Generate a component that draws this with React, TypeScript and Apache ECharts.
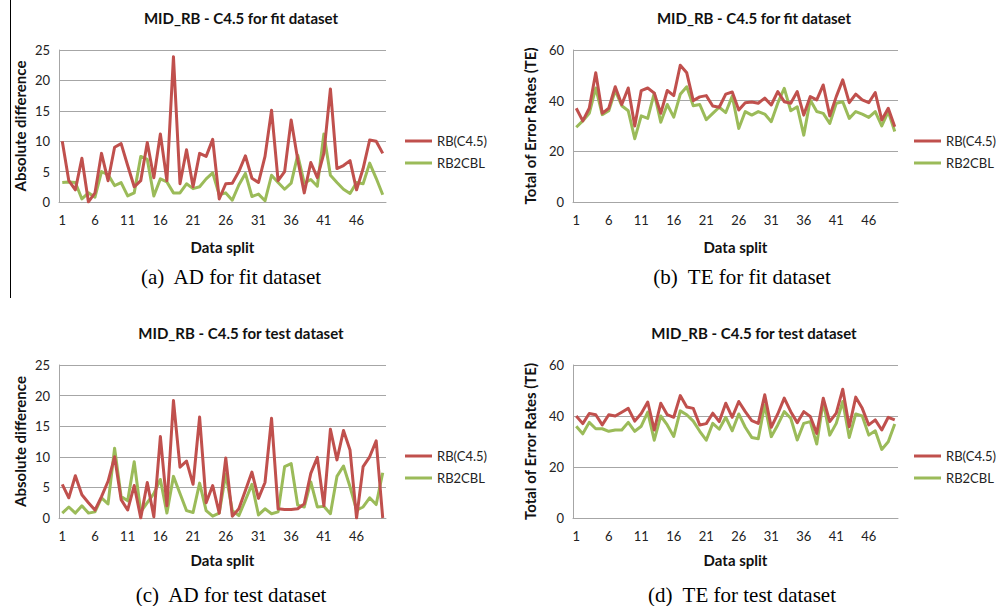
import React, { useEffect, useRef } from 'react';
import * as echarts from 'echarts';

const splits = ['1','2','3','4','5','6','7','8','9','10','11','12','13','14','15','16','17','18','19','20','21','22','23','24','25','26','27','28','29','30','31','32','33','34','35','36','37','38','39','40','41','42','43','44','45','46','47','48','49','50'];

const seriesNames = ['RB(C4.5)', 'RB2CBL'];

const fitAdRb = [10,3.5,2,7.2,0,1.5,8,3.5,9,9.6,6,2.5,3.5,9.8,4,11.2,3.5,23.9,3,8.6,2.5,8,7.5,10.3,0.5,3,3.1,5,7.6,3.9,3.2,7.5,15.1,3.5,5,13.5,7,1.5,6.5,4,8,18.6,5.5,6,6.8,2,5.5,10.2,10,8];
const fitAdCbl = [3.2,3.3,3.2,0.5,1.5,0.8,5,4.5,2.7,3.2,1,1.5,7.5,7,1,3.8,3.3,1.5,1.5,3,2.2,2.5,3.8,4.8,1.2,1.5,0.3,2.8,4.7,0.9,1.3,0.2,4.4,3.2,2.1,3.1,7.7,3.1,3.7,2.6,11.2,4.4,3.2,2.1,1.4,3.2,3,6.4,3.9,1.2];

const fitTeRb = [37,32,37,51,35,37,45.5,38.5,45,30,44,45,43,35,44,42,54,51,40,41.5,42,37.9,37.4,42.6,43.4,36.3,39.2,39.5,39,41,38.3,43.6,39.6,39,43.6,34.3,41.6,40.3,46.2,34,41.6,48.2,39.2,42.6,40.3,39.2,43.2,32.4,37,29.7];
const fitTeCbl = [29.5,32,35,45,34.5,36,44,38,36,25,34,33,43,31.5,38.5,33.5,42.5,45.5,38,38.5,32.5,35,37.4,35.3,41.8,29,35.7,34.3,35.7,34.7,31.7,39,44.9,36,37.6,26.4,40.3,35.7,35,31,39,39.6,33,35.7,34.7,33.4,35.7,30,35.7,27.8];

const testAdRb = [5.5,3.3,6.9,3.8,2.5,1.3,3.5,6,10,3,1.3,5.3,0,5.8,0.2,13.3,2,19.2,8.3,9.3,5.5,16.5,2.5,5.3,0.8,9.8,0.3,1.5,4.5,7.5,3.2,5.8,16.3,1.5,1.4,1.4,1.5,2.3,7.3,9.9,2,14.5,9.5,14.3,11.1,0,8.4,10,12.6,0];
const testAdCbl = [0.8,1.8,0.8,2,0.8,1,3.3,2.3,11.4,3.5,2.8,9.2,1,2.5,4,6.3,0.8,6.8,4,1.2,0.9,5.7,1.2,0.3,0.8,7.2,1.2,0.4,2.9,5.5,0.5,1.5,0.7,1,8.4,8.9,2.1,1.8,5.9,1.8,1.9,0.7,6.8,8.5,5.1,1.3,1.8,3.3,2.2,7.4];

const testTeRb = [40,37,41,40.5,36.5,40.5,40,41.5,43,38,41,45.5,34.5,45,40.5,39.5,48,43.5,43,36.5,37,41.1,37.8,45,39.5,45.7,41.7,38.2,37.1,48.3,35.6,40.8,47,41.7,37.4,41.7,39.8,33.2,47,37.8,41.1,50.5,35.8,47.4,43,36.5,38.5,34.5,39.5,38.5];
const testTeCbl = [36,33,37.5,35,35,34,34.5,34.5,37.5,34,36,41.5,30.5,40,36.5,32,42,40.5,38,34,30.5,37.1,34.8,39.5,34.2,40.8,35.6,31.6,31.1,44.4,31.9,36.5,41.7,39.1,30.6,37.1,37.8,29,45.7,32.5,37.1,45.7,31.6,40.8,40,32.5,34.2,26.9,29.9,36.9];

const RED = '#C0504D';
const GREEN = '#9BBB59';
const SANS = 'Lato, "Open Sans", sans-serif';
const SERIF = '"Liberation Serif", "DejaVu Serif", serif';

const panels = [
  { title: 'MID_RB - C4.5 for fit dataset', caption: '(a)  AD for fit dataset', yName: 'Absolute difference', yMax: 25, yInt: 5, rb: fitAdRb, cbl: fitAdCbl,
    grid: { left: 59, top: 50, width: 327, height: 152 }, titleX: 241, titleY: 18, capX: 231, capY: 277, legLeft: 405, legTop: 133, yGap: 32, xGap: 37 },
  { title: 'MID_RB - C4.5 for fit dataset', caption: '(b)  TE for fit dataset', yName: 'Total of Error Rates (TE)', yMax: 60, yInt: 20, rb: fitTeRb, cbl: fitTeCbl,
    grid: { left: 573, top: 50, width: 325, height: 152 }, titleX: 754, titleY: 18, capX: 742, capY: 277, legLeft: 914, legTop: 133, yGap: 36, xGap: 37 },
  { title: 'MID_RB - C4.5 for test dataset', caption: '(c)  AD for test dataset', yName: 'Absolute difference', yMax: 25, yInt: 5, rb: testAdRb, cbl: testAdCbl,
    grid: { left: 59, top: 365, width: 327, height: 153 }, titleX: 241, titleY: 333, capX: 231, capY: 595, legLeft: 405, legTop: 448, yGap: 32, xGap: 34 },
  { title: 'MID_RB - C4.5 for test dataset', caption: '(d)  TE for test dataset', yName: 'Total of Error Rates (TE)', yMax: 60, yInt: 20, rb: testTeRb, cbl: testTeCbl,
    grid: { left: 573, top: 365, width: 325, height: 153 }, titleX: 754, titleY: 333, capX: 742, capY: 595, legLeft: 914, legTop: 448, yGap: 36, xGap: 34 },
];

function buildOption() {
  const grid = panels.map(p => ({ ...p.grid, containLabel: false }));
  const xAxis = panels.map((p, i) => ({
    type: 'category', gridIndex: i, data: splits, boundaryGap: true,
    axisLine: { lineStyle: { color: '#a6a6a6', width: 1 } },
    axisTick: { show: false },
    axisLabel: { interval: 4, color: '#222', fontFamily: SANS, fontSize: 13, margin: 11 },
    name: 'Data split', nameLocation: 'middle', nameGap: p.xGap,
    nameTextStyle: { fontFamily: SANS, fontWeight: 'bold', fontSize: 15, color: '#111' },
  }));
  const yAxis = panels.map((p, i) => ({
    type: 'value', gridIndex: i, min: 0, max: p.yMax, interval: p.yInt,
    axisLine: { show: true, lineStyle: { color: '#a6a6a6', width: 1 } },
    axisTick: { show: false },
    splitLine: { lineStyle: { color: '#a6a6a6', width: 1 } },
    axisLabel: { color: '#222', fontFamily: SANS, fontSize: 13, margin: 9 },
    name: p.yName, nameLocation: 'middle', nameGap: p.yGap, nameRotate: 90,
    nameTextStyle: { fontFamily: SANS, fontWeight: 'bold', fontSize: 15, color: '#111' },
  }));
  const series: any[] = [];
  panels.forEach((p, i) => {
    [p.rb, p.cbl].forEach((d, k) => {
      series.push({
        type: 'line', name: seriesNames[k], xAxisIndex: i, yAxisIndex: i, data: d,
        symbol: 'none', showSymbol: false, color: k === 0 ? RED : GREEN,
        lineStyle: { width: 3, color: k === 0 ? RED : GREEN, join: 'round' },
        z: k === 0 ? 3 : 2,
      });
    });
  });
  const legend = panels.map(p => ({
    orient: 'vertical', left: p.legLeft, top: p.legTop, padding: 0,
    data: seriesNames, icon: 'rect', itemWidth: 27, itemHeight: 3, itemGap: 6,
    textStyle: { fontFamily: SANS, fontSize: 13, color: '#222', lineHeight: 16, width: 60, overflow: 'none' },
    selectedMode: false,
  }));
  const graphic: any[] = [
    { type: 'line', shape: { x1: 10.5, y1: 0, x2: 10.5, y2: 298 }, style: { stroke: '#000', lineWidth: 1 } },
  ];
  panels.forEach(p => {
    graphic.push({
      type: 'text', x: p.titleX, y: p.titleY,
      style: { text: p.title, fontFamily: SANS, fontWeight: 'bold', fontSize: 15, fill: '#111',
        textAlign: 'center', textVerticalAlign: 'middle', align: 'center', verticalAlign: 'middle' },
    });
    graphic.push({
      type: 'text', x: p.capX, y: p.capY,
      style: { text: p.caption, fontFamily: SERIF, fontSize: 21, fill: '#000',
        textAlign: 'center', textVerticalAlign: 'middle', align: 'center', verticalAlign: 'middle' },
    });
  });
  return { animation: false, backgroundColor: '#fff', grid, xAxis, yAxis, series, legend, graphic };
}

export default function App() {
  const ref = useRef<HTMLDivElement>(null);
  useEffect(() => {
    if (!ref.current) return;
    const chart = echarts.init(ref.current, undefined, { renderer: 'svg' });
    chart.setOption(buildOption() as any);
    return () => chart.dispose();
  }, []);
  return <div ref={ref} style={{ position: 'absolute', left: 0, top: 0, width: 997, height: 606, background: '#fff' }} />;
}
